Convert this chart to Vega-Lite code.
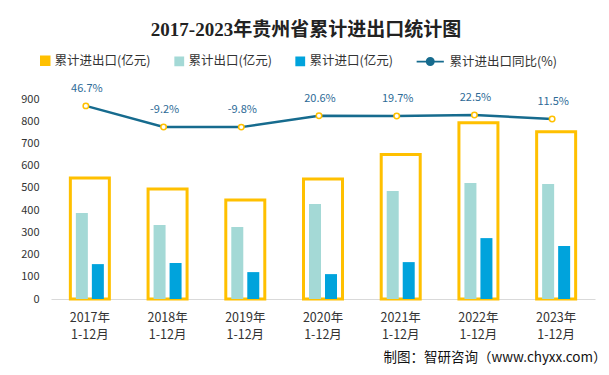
{
  "$schema": "https://vega.github.io/schema/vega-lite/v6.json",
  "width": 544,
  "height": 200,
  "autosize": {"type": "none"},
  "padding": {"left": 51, "top": 99, "right": 14, "bottom": 76},
  "background": "white",
  "title": {
    "text": "2017-2023年贵州省累计进出口统计图",
    "anchor": "middle",
    "frame": "group",
    "dx": -17,
    "offset": 14,
    "fontSize": 19,
    "font": "Liberation Serif, Noto Sans CJK SC",
    "fontWeight": "bold",
    "color": "#222222"
  },
  "data": {
    "values": [
      {"period": "2017年 1-12月", "total": 544, "export": 387, "import": 157, "yoy": 46.7, "yoyText": "46.7%"},
      {"period": "2018年 1-12月", "total": 495, "export": 333, "import": 162, "yoy": -9.2, "yoyText": "-9.2%"},
      {"period": "2019年 1-12月", "total": 445, "export": 324, "import": 121, "yoy": -9.8, "yoyText": "-9.8%"},
      {"period": "2020年 1-12月", "total": 540, "export": 427, "import": 112, "yoy": 20.6, "yoyText": "20.6%"},
      {"period": "2021年 1-12月", "total": 650, "export": 486, "import": 166, "yoy": 19.7, "yoyText": "19.7%"},
      {"period": "2022年 1-12月", "total": 793, "export": 522, "import": 274, "yoy": 22.5, "yoyText": "22.5%"},
      {"period": "2023年 1-12月", "total": 753, "export": 518, "import": 239, "yoy": 11.5, "yoyText": "11.5%"}
    ]
  },
  "encoding": {
    "x": {
      "field": "period",
      "type": "nominal",
      "sort": null,
      "scale": {"paddingInner": 0, "paddingOuter": 0},
      "axis": {
        "title": "制图：智研咨询（www.chyxx.com）",
        "labelExpr": "split(datum.label, ' ')",
        "labelAngle": 0,
        "labelFont": "Noto Sans CJK SC",
        "labelFontSize": 12.5,
        "labelLineHeight": 17,
        "labelPadding": 12,
        "labelColor": "#333333",
        "labelOverlap": false,
        "ticks": false,
        "tickSize": 0,
        "domainColor": "#D9D9D9",
        "domainWidth": 1,
        "titleFont": "Noto Sans CJK SC",
        "titleFontSize": 13.5,
        "titleFontWeight": "normal",
        "titleColor": "#111111",
        "titleAnchor": "end",
        "titleAlign": "right",
        "titleBaseline": "middle",
        "titleX": 555,
        "titleY": 58
      }
    }
  },
  "layer": [
    {
      "layer": [
        {
          "mark": {"type": "bar", "filled": false, "strokeWidth": 3, "width": 39},
          "encoding": {
            "y": {
              "field": "total",
              "type": "quantitative",
              "scale": {"domain": [0, 900], "nice": false},
              "axis": {
                "title": null,
                "tickCount": 9,
                "labelOverlap": false,
                "labelSeparation": 0,
                "grid": false,
                "domain": false,
                "ticks": false,
                "tickSize": 0,
                "labelPadding": 12,
                "labelFont": "Noto Sans CJK SC",
                "labelFontSize": 11,
                "labelColor": "#333333"
              }
            },
            "color": {
              "datum": "累计进出口(亿元)",
              "type": "nominal",
              "scale": {
                "domain": ["累计进出口(亿元)", "累计出口(亿元)", "累计进口(亿元)", "累计进出口同比(%)"],
                "range": ["#FFC000", "#A4D9D6", "#00A3DC", "#166B8E"]
              },
              "legend": {
                "title": null,
                "orient": "none",
                "legendX": -12,
                "legendY": -45,
                "direction": "horizontal",
                "symbolType": "square",
                "symbolSize": 64,
                "labelFont": "Noto Sans CJK SC",
                "labelFontSize": 12.5,
                "labelColor": "#333333",
                "columnPadding": 20,
                "labelOffset": 3,
                "padding": 0,
                "encoding": {
                  "symbols": {
                    "shape": {"value": {"expr": "datum.value === '累计进出口同比(%)' ? 'M-3.4,0L-0.9,0M0.9,0L3.4,0M0.9,0A0.9,0.9,0,1,1,-0.9,0A0.9,0.9,0,1,1,0.9,0' : 'square'"}},
                    "fill": {"value": {"expr": "datum.value === '累计进出口(亿元)' ? 'transparent' : (datum.value === '累计进出口同比(%)' ? 'white' : scale('color', datum.value))"}},
                    "stroke": {"value": {"expr": "(datum.value === '累计进出口(亿元)' || datum.value === '累计进出口同比(%)') ? scale('color', datum.value) : 'transparent'"}},
                    "strokeWidth": {"value": {"expr": "datum.value === '累计进出口(亿元)' ? 2.5 : 1.8"}},
                    "opacity": {"value": 1}
                  },
                  "labels": {
                    "dx": {"value": {"expr": "datum.value === '累计进出口同比(%)' ? 10 : 0"}}
                  }
                }
              }
            }
          }
        },
        {
          "mark": {"type": "bar", "width": 12, "xOffset": -8},
          "encoding": {
            "y": {"field": "export", "type": "quantitative"},
            "color": {"datum": "累计出口(亿元)", "type": "nominal"}
          }
        },
        {
          "mark": {"type": "bar", "width": 12, "xOffset": 8},
          "encoding": {
            "y": {"field": "import", "type": "quantitative"},
            "color": {"datum": "累计进口(亿元)", "type": "nominal"}
          }
        }
      ]
    },
    {
      "encoding": {
        "y": {"field": "yoy", "type": "quantitative", "scale": {"domain": [-467, 65], "nice": false, "zero": false}, "axis": null}
      },
      "layer": [
        {
          "mark": {"type": "line", "strokeWidth": 2.5, "xOffset": -4},
          "encoding": {
            "color": {"datum": "累计进出口同比(%)", "type": "nominal"}
          }
        },
        {
          "mark": {"type": "point", "filled": true, "fill": "white", "stroke": "#FFC000", "strokeWidth": 1.5, "size": 30, "opacity": 1, "xOffset": -4},
          "encoding": {}
        },
        {
          "mark": {"type": "text", "dy": -17, "xOffset": -3, "font": "Noto Sans CJK SC", "fontSize": 11, "color": "#2D6A96"},
          "encoding": {
            "text": {"field": "yoyText", "type": "nominal"}
          }
        }
      ]
    }
  ],
  "resolve": {"scale": {"y": "independent"}},
  "config": {
    "view": {"stroke": null},
    "font": "Noto Sans CJK SC",
    "axisY": {"labelOverlap": false},
    "axis": {"labelOverlap": false}
  }
}
